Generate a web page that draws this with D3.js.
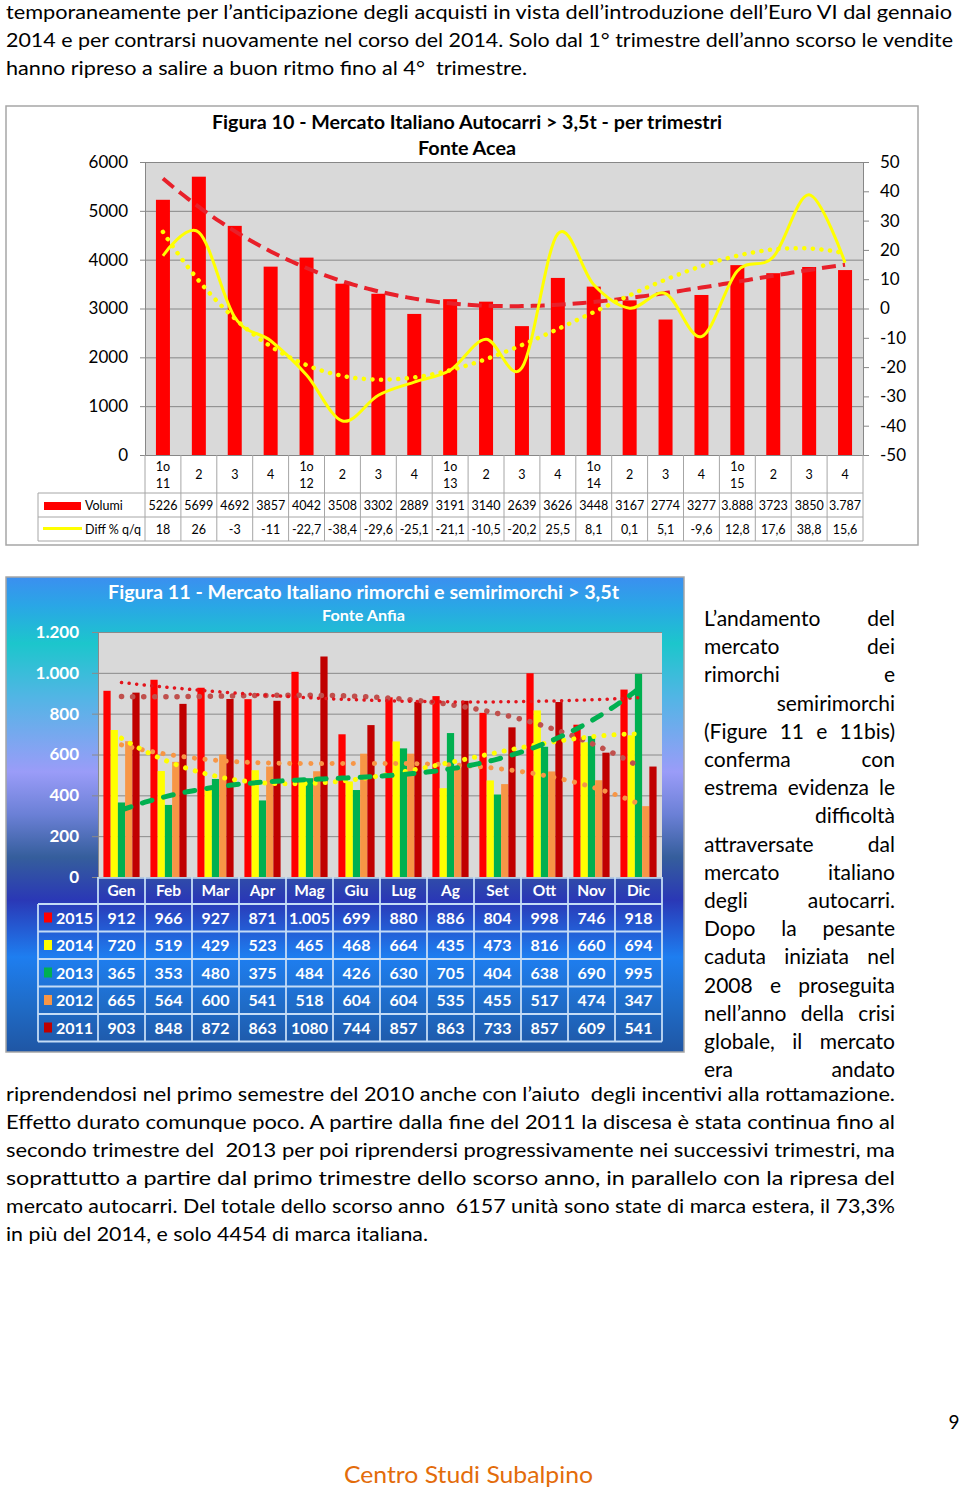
<!DOCTYPE html>
<html>
<head>
<meta charset="utf-8">
<script src="https://cdn.jsdelivr.net/npm/d3@7"></script>
<style>
  body { margin: 0; background: #fff; }
  svg { display: block; }
  text { font-family: Lato, "Open Sans", sans-serif; }
</style>
</head>
<body>
<svg id="page" width="960" height="1491"></svg>
<script>
// ---- Figura 10 data (per trimestri) ----
var quarters = ["1o 11", "2", "3", "4", "1o 12", "2", "3", "4", "1o 13", "2", "3", "4",
                "1o 14", "2", "3", "4", "1o 15", "2", "3", "4"];
var volumi = [5226, 5699, 4692, 3857, 4042, 3508, 3302, 2889, 3191, 3140,
              2639, 3626, 3448, 3167, 2774, 3277, 3888, 3723, 3850, 3787];
var diffPerc = [18, 26, -3, -11, -22.7, -38.4, -29.6, -25.1, -21.1, -10.5,
                -20.2, 25.5, 8.1, 0.1, 5.1, -9.6, 12.8, 17.6, 38.8, 15.6];
var volumiWithDot = [16, 19];   // cells printed with a thousands dot in the source table
var volTicks = [0, 1000, 2000, 3000, 4000, 5000, 6000];
var diffTicks = [-50, -40, -30, -20, -10, 0, 10, 20, 30, 40, 50];

// ---- Figura 11 data (mensile) ----
var months = ["Gen", "Feb", "Mar", "Apr", "Mag", "Giu", "Lug", "Ag", "Set", "Ott", "Nov", "Dic"];
var years = ["2015", "2014", "2013", "2012", "2011"];
var v2015 = [912, 966, 927, 871, 1005, 699, 880, 886, 804, 998, 746, 918];
var v2014 = [720, 519, 429, 523, 465, 468, 664, 435, 473, 816, 660, 694];
var v2013 = [365, 353, 480, 375, 484, 426, 630, 705, 404, 638, 690, 995];
var v2012 = [665, 564, 600, 541, 518, 604, 604, 535, 455, 517, 474, 347];
var v2011 = [903, 848, 872, 863, 1080, 744, 857, 863, 733, 857, 609, 541];
var rimTicks = [0, 200, 400, 600, 800, 1000, 1200];

// ---- page text ----
var topLines = [
  "temporaneamente per l’anticipazione degli acquisti in vista dell’introduzione dell’Euro VI dal gennaio",
  "2014 e per contrarsi nuovamente nel corso del 2014. Solo dal 1° trimestre dell’anno scorso le vendite",
  "hanno ripreso a salire a buon ritmo fino al 4°  trimestre."
];
var topEnds = [952, 953, 527];
var sideLines = [
  "L’andamento del", "mercato dei", "rimorchi e", "semirimorchi", "(Figure 11 e 11bis)",
  "conferma con", "estrema evidenza le", "difficoltà", "attraversate dal", "mercato italiano",
  "degli autocarri.", "Dopo la pesante", "caduta iniziata nel", "2008 e proseguita",
  "nell’anno della crisi", "globale, il mercato", "era andato"
];
var bottomLines = [
  "riprendendosi nel primo semestre del 2010 anche con l’aiuto  degli incentivi alla rottamazione.",
  "Effetto durato comunque poco. A partire dalla fine del 2011 la discesa è stata continua fino al",
  "secondo trimestre del  2013 per poi riprendersi progressivamente nei successivi trimestri, ma",
  "soprattutto a partire dal primo trimestre dello scorso anno, in parallelo con la ripresa del",
  "mercato autocarri. Del totale dello scorso anno  6157 unità sono state di marca estera, il 73,3%",
  "in più del 2014, e solo 4454 di marca italiana."
];
var bottomEnds = [895, 895, 895, 895, 895, 428];

var itLocale = d3.formatLocale({decimal: ",", thousands: ".", grouping: [3], currency: ["€", ""], minus: "-"});
var itThousands = itLocale.format(",");
var itNumber = itLocale.format("");

// least squares polynomial trend (like the spreadsheet trendline), x = 1..n
function polyFit(ys, order) {
  var m = order + 1, A = [], b = [];
  for (var i = 0; i < m; i++) { A.push(new Array(m).fill(0)); b.push(0); }
  ys.forEach(function(y, k) {
    var x = k + 1;
    for (var i = 0; i < m; i++) {
      b[i] += y * Math.pow(x, i);
      for (var j = 0; j < m; j++) A[i][j] += Math.pow(x, i + j);
    }
  });
  for (var c = 0; c < m; c++) {
    var p = c;
    for (var r = c + 1; r < m; r++) if (Math.abs(A[r][c]) > Math.abs(A[p][c])) p = r;
    var t = A[c]; A[c] = A[p]; A[p] = t; t = b[c]; b[c] = b[p]; b[p] = t;
    for (var r2 = c + 1; r2 < m; r2++) {
      var f = A[r2][c] / A[c][c];
      for (var j2 = c; j2 < m; j2++) A[r2][j2] -= f * A[c][j2];
      b[r2] -= f * b[c];
    }
  }
  var coef = new Array(m).fill(0);
  for (var i2 = m - 1; i2 >= 0; i2--) {
    var s = b[i2];
    for (var j3 = i2 + 1; j3 < m; j3++) s -= A[i2][j3] * coef[j3];
    coef[i2] = s / A[i2][i2];
  }
  return function(x) {
    var s = 0;
    for (var i = 0; i < m; i++) s += coef[i] * Math.pow(x, i);
    return s;
  };
}

var svg = d3.select("#page");

// =========================== Figura 10 ===========================
var p10 = {left: 145, right: 863, top: 162, bottom: 455};

svg.append("rect")
  .attr("x", 6).attr("y", 106).attr("width", 912).attr("height", 439)
  .attr("fill", "#fff").attr("stroke", "#a6a6a6").attr("stroke-width", 1.5);

svg.append("text").attr("x", 212).attr("y", 129)
  .attr("font-size", 19).attr("font-weight", "bold")
  .attr("textLength", 510).attr("lengthAdjust", "spacingAndGlyphs")
  .text("Figura 10 - Mercato Italiano Autocarri > 3,5t - per trimestri");
svg.append("text").attr("x", 418).attr("y", 155)
  .attr("font-size", 19).attr("font-weight", "bold")
  .attr("textLength", 98).attr("lengthAdjust", "spacingAndGlyphs")
  .text("Fonte Acea");

var x10 = d3.scaleBand().domain(d3.range(quarters.length)).range([p10.left, p10.right]);
var yVol = d3.scaleLinear().domain([0, 6000]).range([p10.bottom, p10.top]);
var yDiff = d3.scaleLinear().domain([-50, 50]).range([p10.bottom, p10.top]);
var xTrend10 = d3.scaleLinear().domain([1, quarters.length])
  .range([x10(0) + x10.bandwidth() / 2, x10(quarters.length - 1) + x10.bandwidth() / 2]);

svg.append("rect")
  .attr("x", p10.left).attr("y", p10.top)
  .attr("width", p10.right - p10.left).attr("height", p10.bottom - p10.top)
  .attr("fill", "#d9d9d9");

svg.append("g")
  .attr("transform", `translate(${p10.left},0)`)
  .call(d3.axisLeft(yVol).tickValues(volTicks).tickSize(-(p10.right - p10.left)).tickFormat(""))
  .call(g => g.select(".domain").remove())
  .selectAll("line").attr("stroke", "#878787");

var leftAxis10 = svg.append("g")
  .attr("transform", `translate(${p10.left},0)`)
  .call(d3.axisLeft(yVol).tickValues(volTicks).tickSize(5).tickPadding(12).tickFormat(d3.format("d")));
var rightAxis10 = svg.append("g")
  .attr("transform", `translate(${p10.right},0)`)
  .call(d3.axisRight(yDiff).tickValues(diffTicks).tickSize(6).tickPadding(11).tickFormat(itNumber));
[leftAxis10, rightAxis10].forEach(function(ax) {
  ax.selectAll(".domain, line").attr("stroke", "#878787");
  ax.selectAll("text").attr("font-size", 17).attr("fill", "#000")
    .style("font-family", "Lato, 'Open Sans', sans-serif");
});

// bars
var barW10 = 14;
svg.append("g").selectAll("rect")
  .data(volumi)
  .enter()
  .append("rect")
  .attr("x", (d, i) => x10(i) + (x10.bandwidth() - barW10) / 2)
  .attr("y", d => yVol(d))
  .attr("width", barW10)
  .attr("height", d => yVol(0) - yVol(d))
  .attr("fill", "#ff0000");

// trend lines
var trendVol = polyFit(volumi, 3);
var trendDiff = polyFit(diffPerc, 3);
var samples10 = d3.range(1, quarters.length + 0.001, 0.1);

svg.append("path")
  .attr("d", d3.line().x(t => xTrend10(t)).y(t => yVol(trendVol(t)))(samples10))
  .attr("fill", "none").attr("stroke", "#e8202a").attr("stroke-width", 4)
  .attr("stroke-dasharray", "14,7");

svg.append("path")
  .attr("d", d3.line().x(t => xTrend10(t)).y(t => yDiff(trendDiff(t)))(samples10))
  .attr("fill", "none").attr("stroke", "#ffff00").attr("stroke-width", 4.5)
  .attr("stroke-linecap", "round").attr("stroke-dasharray", "0.1,8.5");

// smoothed line Diff %
svg.append("path")
  .datum(diffPerc)
  .attr("d", d3.line()
    .x((d, i) => x10(i) + x10.bandwidth() / 2)
    .y(d => yDiff(d))
    .curve(d3.curveCardinal.tension(0)))
  .attr("fill", "none").attr("stroke", "#ffff00").attr("stroke-width", 3);

// data table
var t10 = svg.append("g");
var rows10 = [455, 493, 517, 541];
var gridC = "#a6a6a6";
quarters.forEach(function(q, i) {
  var x0 = x10(i);
  t10.append("line").attr("x1", x0).attr("x2", x0).attr("y1", rows10[0]).attr("y2", rows10[3])
    .attr("stroke", gridC);
  var parts = q.split(" ");
  var cx = x0 + x10.bandwidth() / 2;
  if (parts.length === 2) {
    t10.append("text").attr("x", cx).attr("y", 471).attr("text-anchor", "middle").attr("font-size", 12.5).text(parts[0]);
    t10.append("text").attr("x", cx).attr("y", 488).attr("text-anchor", "middle").attr("font-size", 12.5).text(parts[1]);
  } else {
    t10.append("text").attr("x", cx).attr("y", 479).attr("text-anchor", "middle").attr("font-size", 12.5).text(q);
  }
  var vLabel = volumiWithDot.indexOf(i) >= 0 ? itThousands(volumi[i]) : String(volumi[i]);
  t10.append("text").attr("x", cx).attr("y", 509.5).attr("text-anchor", "middle").attr("font-size", 12.5).text(vLabel);
  t10.append("text").attr("x", cx).attr("y", 533.5).attr("text-anchor", "middle").attr("font-size", 12.5).text(itNumber(diffPerc[i]));
});
t10.append("line").attr("x1", p10.right).attr("x2", p10.right).attr("y1", rows10[0]).attr("y2", rows10[3]).attr("stroke", gridC);
t10.append("line").attr("x1", 38).attr("x2", 38).attr("y1", rows10[1]).attr("y2", rows10[3]).attr("stroke", gridC);
rows10.slice(1).forEach(function(y) {
  t10.append("line").attr("x1", 38).attr("x2", p10.right).attr("y1", y).attr("y2", y).attr("stroke", gridC);
});
t10.append("rect").attr("x", 44).attr("y", 502).attr("width", 37).attr("height", 8).attr("fill", "#ff0000");
t10.append("text").attr("x", 85).attr("y", 509.5).attr("font-size", 12.5).text("Volumi");
t10.append("line").attr("x1", 43).attr("x2", 82).attr("y1", 528.5).attr("y2", 528.5)
  .attr("stroke", "#ffff00").attr("stroke-width", 3);
t10.append("text").attr("x", 85).attr("y", 533.5).attr("font-size", 12.5).text("Diff % q/q");

// =========================== Figura 11 ===========================
var p11 = {left: 98, right: 662, top: 632, bottom: 877};
var yearColors = {"2015": "#ff0000", "2014": "#ffff00", "2013": "#00b050", "2012": "#f79646", "2011": "#c00000"};
var yearValues = {"2015": v2015, "2014": v2014, "2013": v2013, "2012": v2012, "2011": v2011};

var defs = svg.append("defs");
var grad = defs.append("linearGradient").attr("id", "bg11").attr("x1", 0).attr("y1", 0).attr("x2", 0).attr("y2", 1);
[[0, "#3b8ff0"], [0.06, "#2aa6e6"], [0.14, "#1cc6cc"], [0.26, "#55b4e6"], [0.41, "#9a9cf8"],
 [0.5, "#6b80d6"], [0.59, "#355e9c"], [0.68, "#2a38b6"], [0.8, "#1e7ef0"], [0.9, "#1f6cc8"], [1, "#1f56a4"]]
  .forEach(s => grad.append("stop").attr("offset", s[0]).attr("stop-color", s[1]));

svg.append("rect")
  .attr("x", 6).attr("y", 577).attr("width", 678).attr("height", 475)
  .attr("fill", "url(#bg11)").attr("stroke", "#a6a6a6").attr("stroke-width", 1.5);

svg.append("text").attr("x", 108).attr("y", 599)
  .attr("font-size", 19).attr("font-weight", "bold").attr("fill", "#fff")
  .attr("textLength", 511).attr("lengthAdjust", "spacingAndGlyphs")
  .text("Figura 11 - Mercato Italiano rimorchi e semirimorchi > 3,5t");
svg.append("text").attr("x", 322).attr("y", 621)
  .attr("font-size", 15).attr("font-weight", "bold").attr("fill", "#fff")
  .attr("textLength", 83).attr("lengthAdjust", "spacingAndGlyphs")
  .text("Fonte Anfia");

var x11 = d3.scaleBand().domain(months).range([p11.left, p11.right]).paddingInner(0.23).paddingOuter(0.115);
var xYear = d3.scaleBand().domain(years).range([0, x11.bandwidth()]);
var y11 = d3.scaleLinear().domain([0, 1200]).range([p11.bottom, p11.top]);
var step11 = x11.step();
var xTrend11 = d3.scaleLinear().domain([1, months.length])
  .range([x11(months[0]) + x11.bandwidth() / 2, x11(months[months.length - 1]) + x11.bandwidth() / 2]);

svg.append("rect")
  .attr("x", p11.left).attr("y", p11.top)
  .attr("width", p11.right - p11.left).attr("height", p11.bottom - p11.top)
  .attr("fill", "#d9d9d9");

svg.append("g")
  .attr("transform", `translate(${p11.left},0)`)
  .call(d3.axisLeft(y11).tickValues(rimTicks).tickSize(-(p11.right - p11.left)).tickFormat(""))
  .call(g => g.select(".domain").remove())
  .selectAll("line").attr("stroke", "#8a8a8a");

var leftAxis11 = svg.append("g")
  .attr("transform", `translate(${p11.left},0)`)
  .call(d3.axisLeft(y11).tickValues(rimTicks).tickSize(6).tickPadding(13).tickFormat(itThousands));
leftAxis11.selectAll(".domain").attr("stroke", "#8a8a8a");
leftAxis11.selectAll("line").attr("stroke", "#8a8a8a");
leftAxis11.selectAll("text").attr("font-size", 17).attr("font-weight", "bold").attr("fill", "#fff")
  .style("font-family", "Lato, 'Open Sans', sans-serif");

// grouped bars
var groups11 = svg.append("g").selectAll("g")
  .data(months)
  .enter()
  .append("g")
  .attr("transform", d => `translate(${x11(d)},0)`);
groups11.selectAll("rect")
  .data((m, i) => years.map(yr => ({year: yr, value: yearValues[yr][i]})))
  .enter()
  .append("rect")
  .attr("x", d => xYear(d.year))
  .attr("y", d => y11(d.value))
  .attr("width", xYear.bandwidth())
  .attr("height", d => y11(0) - y11(d.value))
  .attr("fill", d => yearColors[d.year]);

// trend lines per year
var trendStyles = {
  "2015": {color: "#e3141c", width: 3.5, dash: "0.1,7.5", cap: "round", order: 2},
  "2014": {color: "#ffff00", width: 5, dash: "0.1,10", cap: "round", order: 3},
  "2013": {color: "#00b050", width: 5, dash: "10,12", cap: "round", order: 3},
  "2012": {color: "#f79646", width: 5, dash: "0.1,10.5", cap: "round", order: 3},
  "2011": {color: "#c0504d", width: 5.5, dash: "0.1,11", cap: "round", order: 3}
};
var samples11 = d3.range(1, months.length + 0.001, 0.1);
["2011", "2012", "2014", "2015", "2013"].forEach(function(yr) {
  var st = trendStyles[yr];
  var fit = polyFit(yearValues[yr], st.order);
  svg.append("path")
    .attr("d", d3.line().x(t => xTrend11(t)).y(t => y11(fit(t)))(samples11))
    .attr("fill", "none").attr("stroke", st.color).attr("stroke-width", st.width)
    .attr("stroke-linecap", st.cap).attr("stroke-dasharray", st.dash);
});

// data table
var t11 = svg.append("g");
var rowTop11 = [877, 904, 931.5, 959, 986.5, 1014, 1041.5];
var line11 = "#c4dcf6";
months.forEach(function(m, i) {
  var x0 = p11.left + i * step11;
  var cx = x0 + step11 / 2;
  t11.append("text").attr("x", cx).attr("y", 896).attr("text-anchor", "middle")
    .attr("font-size", 15.5).attr("font-weight", "bold").attr("fill", "#fff").text(m);
  years.forEach(function(yr, r) {
    var v = yearValues[yr][i];
    var label = yr === "2015" ? itThousands(v) : String(v);
    t11.append("text").attr("x", cx).attr("y", rowTop11[r + 1] + 19.5).attr("text-anchor", "middle")
      .attr("font-size", 16).attr("font-weight", "bold").attr("fill", "#fff").text(label);
  });
});
d3.range(months.length + 1).forEach(function(i) {
  var x0 = p11.left + i * step11;
  t11.append("line").attr("x1", x0).attr("x2", x0).attr("y1", rowTop11[0]).attr("y2", rowTop11[6])
    .attr("stroke", line11).attr("stroke-width", 1.8);
});
t11.append("line").attr("x1", p11.left).attr("x2", p11.right).attr("y1", rowTop11[0] + 1).attr("y2", rowTop11[0] + 1)
  .attr("stroke", line11).attr("stroke-width", 1.5);
t11.append("line").attr("x1", 38).attr("x2", 38).attr("y1", rowTop11[1]).attr("y2", rowTop11[6])
  .attr("stroke", line11).attr("stroke-width", 1.8);
rowTop11.slice(1).forEach(function(y) {
  t11.append("line").attr("x1", 38).attr("x2", p11.right).attr("y1", y).attr("y2", y)
    .attr("stroke", line11).attr("stroke-width", 1.8);
});
years.forEach(function(yr, r) {
  var yTop = rowTop11[r + 1];
  t11.append("rect").attr("x", 44).attr("y", yTop + 8.5).attr("width", 8).attr("height", 10)
    .attr("fill", yearColors[yr]);
  t11.append("text").attr("x", 56).attr("y", yTop + 19.5)
    .attr("font-size", 16).attr("font-weight", "bold").attr("fill", "#fff").text(yr);
});

// =========================== page text ===========================
function justified(g, str, x0, x1, y, size) {
  var words = str.split(/\s+/);
  var nodes = words.map(w => g.append("text").attr("y", y).attr("font-size", size).text(w));
  var widths = nodes.map(n => n.node().getComputedTextLength());
  var gap = words.length > 1 ? (x1 - x0 - d3.sum(widths)) / (words.length - 1) : 0;
  if (words.length > 1 && gap < 2) {
    nodes.forEach(n => n.remove());
    stretched(g, str, x0, x1, y, size);
    return;
  }
  if (words.length === 1) { nodes[0].attr("x", x1).attr("text-anchor", "end"); return; }
  var x = x0;
  nodes.forEach(function(n, i) { n.attr("x", x); x += widths[i] + gap; });
}
function stretched(g, str, x0, x1, y, size) {
  g.append("text").attr("x", x0).attr("y", y).attr("font-size", size)
    .attr("xml:space", "preserve")
    .attr("textLength", x1 - x0).attr("lengthAdjust", "spacingAndGlyphs").text(str);
}

var txt = svg.append("g").attr("fill", "#000");
topLines.forEach(function(l, i) {
  stretched(txt, l, 6, topEnds[i], 18.5 + i * 28, 18.5);
});
sideLines.forEach(function(l, i) {
  justified(txt, l, 704, 895, 626 + i * 28.2, 21);
});
bottomLines.forEach(function(l, i) {
  stretched(txt, l, 6, bottomEnds[i], 1101 + i * 28, 18.5);
});

svg.append("text").attr("x", 954).attr("y", 1429).attr("text-anchor", "middle")
  .attr("font-size", 19).text("9");
svg.append("text").attr("x", 344).attr("y", 1483)
  .attr("font-size", 23).attr("fill", "#e36c0a")
  .attr("textLength", 249).attr("lengthAdjust", "spacingAndGlyphs")
  .text("Centro Studi Subalpino");
</script>
</body>
</html>
